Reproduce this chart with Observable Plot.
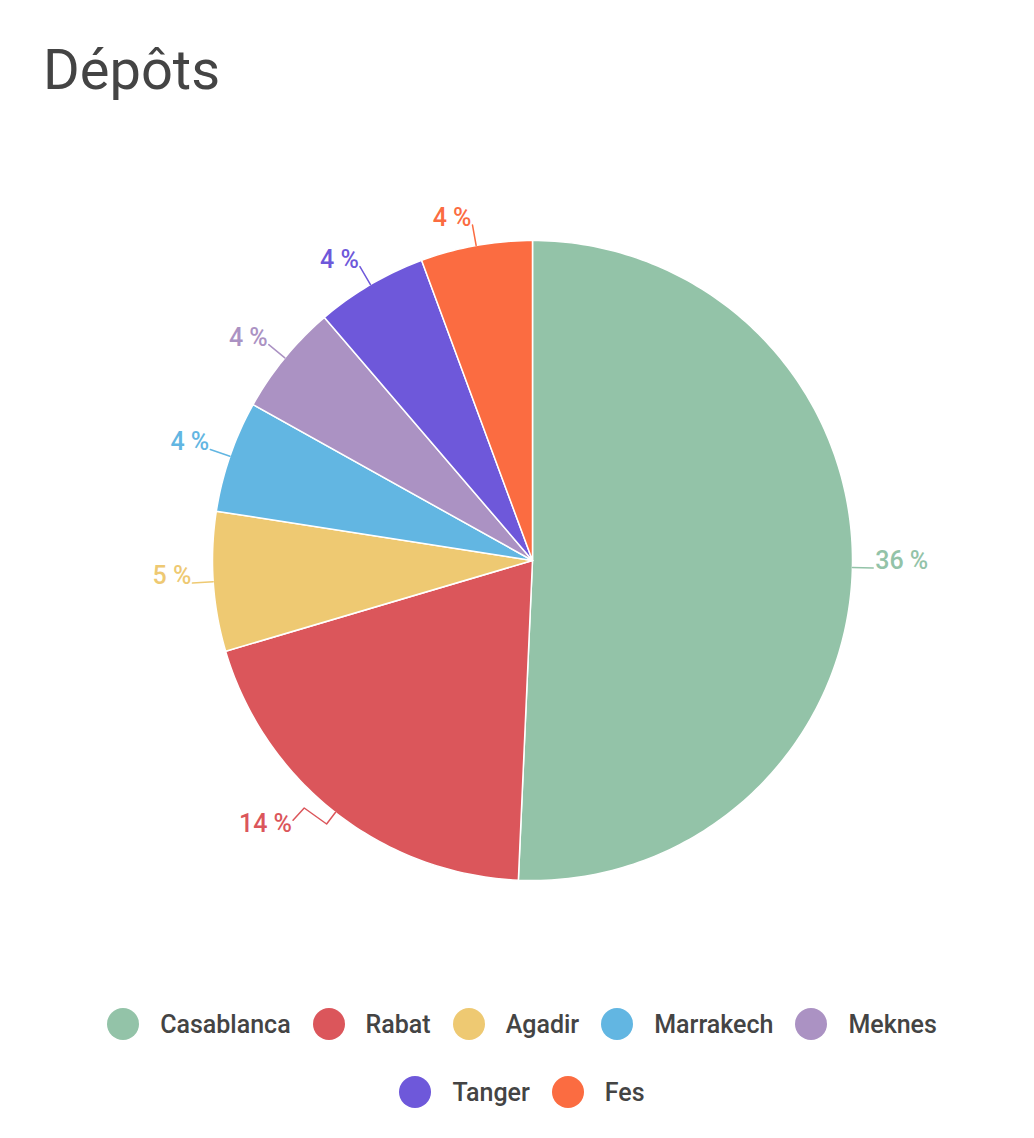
<!DOCTYPE html>
<html>
<head>
<meta charset="utf-8">
<script src="https://cdn.jsdelivr.net/npm/d3@7"></script>
<script src="https://cdn.jsdelivr.net/npm/@observablehq/plot@0.6"></script>
<style>
  html, body { margin: 0; padding: 0; background: #fff; }
  body { width: 1034px; font-family: Roboto, "Noto Sans", sans-serif; }
  #title { box-sizing: border-box; height: 120px; padding: 42px 0 0 43px; font-size: 56px; line-height: 56px; color: #444; font-weight: 400; }
  #chart svg { display: block; }
  .row { display: flex; justify-content: center; align-items: center; height: 68px; padding-left: 10px; }
  .item { display: flex; align-items: center; margin-right: 22px; font-size: 25px; font-weight: 500; color: #444; }
  .item:last-child { margin-right: 0; }
  .dot { width: 32px; height: 32px; border-radius: 50%; margin-right: 21px; }
</style>
</head>
<body>
<div id="title">Dépôts</div>
<div id="chart"></div>
<div id="legend"></div>
<script>
const names = ["Casablanca", "Rabat", "Agadir", "Marrakech", "Meknes", "Tanger", "Fes"];
const values = [36, 14, 5, 4, 4, 4, 4];
const colors = ["#93c3a8", "#db565b", "#eec972", "#62b6e2", "#ab92c3", "#6e58da", "#fb6c41"];
const legendRows = [["Casablanca", "Rabat", "Agadir", "Marrakech", "Meknes"], ["Tanger", "Fes"]];

const data = names.map((name, i) => ({name, value: values[i]}));
const arcs = d3.pie().sort(null).value(d => d.value)(data);

// slice polygons in unit-radius coordinates (clockwise from 12 o'clock)
const poly = [];
arcs.forEach(a => {
  const n = Math.max(6, Math.ceil((a.endAngle - a.startAngle) * 180 / Math.PI));
  poly.push({name: a.data.name, x: 0, y: 0});
  for (let k = 0; k <= n; k++) {
    const t = a.startAngle + (a.endAngle - a.startAngle) * k / n;
    poly.push({name: a.data.name, x: Math.sin(t), y: Math.cos(t)});
  }
  poly.push({name: a.data.name, x: 0, y: 0});
});

// leader lines: radial tick; large lower-left slice gets a zig-zag elbow (layout only)
const leaders = [];
const labels = arcs.map(a => {
  const m = (a.startAngle + a.endAngle) / 2;
  const s = Math.sin(m), c = Math.cos(m);
  const pts = [[s, c], [1.065 * s, 1.065 * c]];
  let dy = 1;
  if (a.data.name === "Rabat") {
    pts.length = 0;
    pts.push([s, c], [s * 1.02 - 0.015, c * 1.02 - 0.02], [s * 1.02 - 0.085, c * 1.02 + 0.03], [s * 1.02 - 0.12, c * 1.02 - 0.008]);
    dy = 12;
  }
  pts.forEach(([x, y], k) => leaders.push({name: a.data.name, x, y, k}));
  const end = pts[pts.length - 1];
  return {name: a.data.name, text: `${a.data.value} %`, x: end[0], y: end[1], right: s > 0.05, dy};
});

const W = 1034, H = 870, R = 320, cx = 532, cy = 440;
const textOpts = {x: "x", y: "y", text: "text", fill: "name", lineAnchor: "bottom", fontSize: 25, fontWeight: 500};

const chart = Plot.plot({
  width: W, height: H,
  margin: 0,
  x: {domain: [-cx / R, (W - cx) / R], axis: null},
  y: {domain: [-(H - cy) / R, cy / R], axis: null},
  color: {domain: names, range: colors},
  style: {fontFamily: "Roboto, sans-serif"},
  marks: [
    Plot.line(poly, {x: "x", y: "y", z: "name", fill: "name", stroke: "white", strokeWidth: 1.5, curve: "linear"}),
    Plot.line(leaders, {x: "x", y: "y", z: "name", stroke: "name", strokeWidth: 1.5, curve: "linear"}),
    Plot.text(labels.filter(d => d.right), {...textOpts, textAnchor: "start", dx: 2, dy: 1}),
    Plot.text(labels.filter(d => !d.right && d.dy === 1), {...textOpts, textAnchor: "end", dx: -1, dy: 1}),
    Plot.text(labels.filter(d => !d.right && d.dy !== 1), {...textOpts, textAnchor: "end", dx: -1, dy: 12})
  ]
});
document.getElementById("chart").appendChild(chart);

const legend = document.getElementById("legend");
const colorOf = Object.fromEntries(names.map((n, i) => [n, colors[i]]));
legendRows.forEach(row => {
  const r = document.createElement("div");
  r.className = "row";
  row.forEach(n => {
    const it = document.createElement("div");
    it.className = "item";
    const dot = document.createElement("span");
    dot.className = "dot";
    dot.style.background = colorOf[n];
    const t = document.createElement("span");
    t.textContent = n;
    it.appendChild(dot); it.appendChild(t);
    r.appendChild(it);
  });
  legend.appendChild(r);
});
</script>
</body>
</html>
